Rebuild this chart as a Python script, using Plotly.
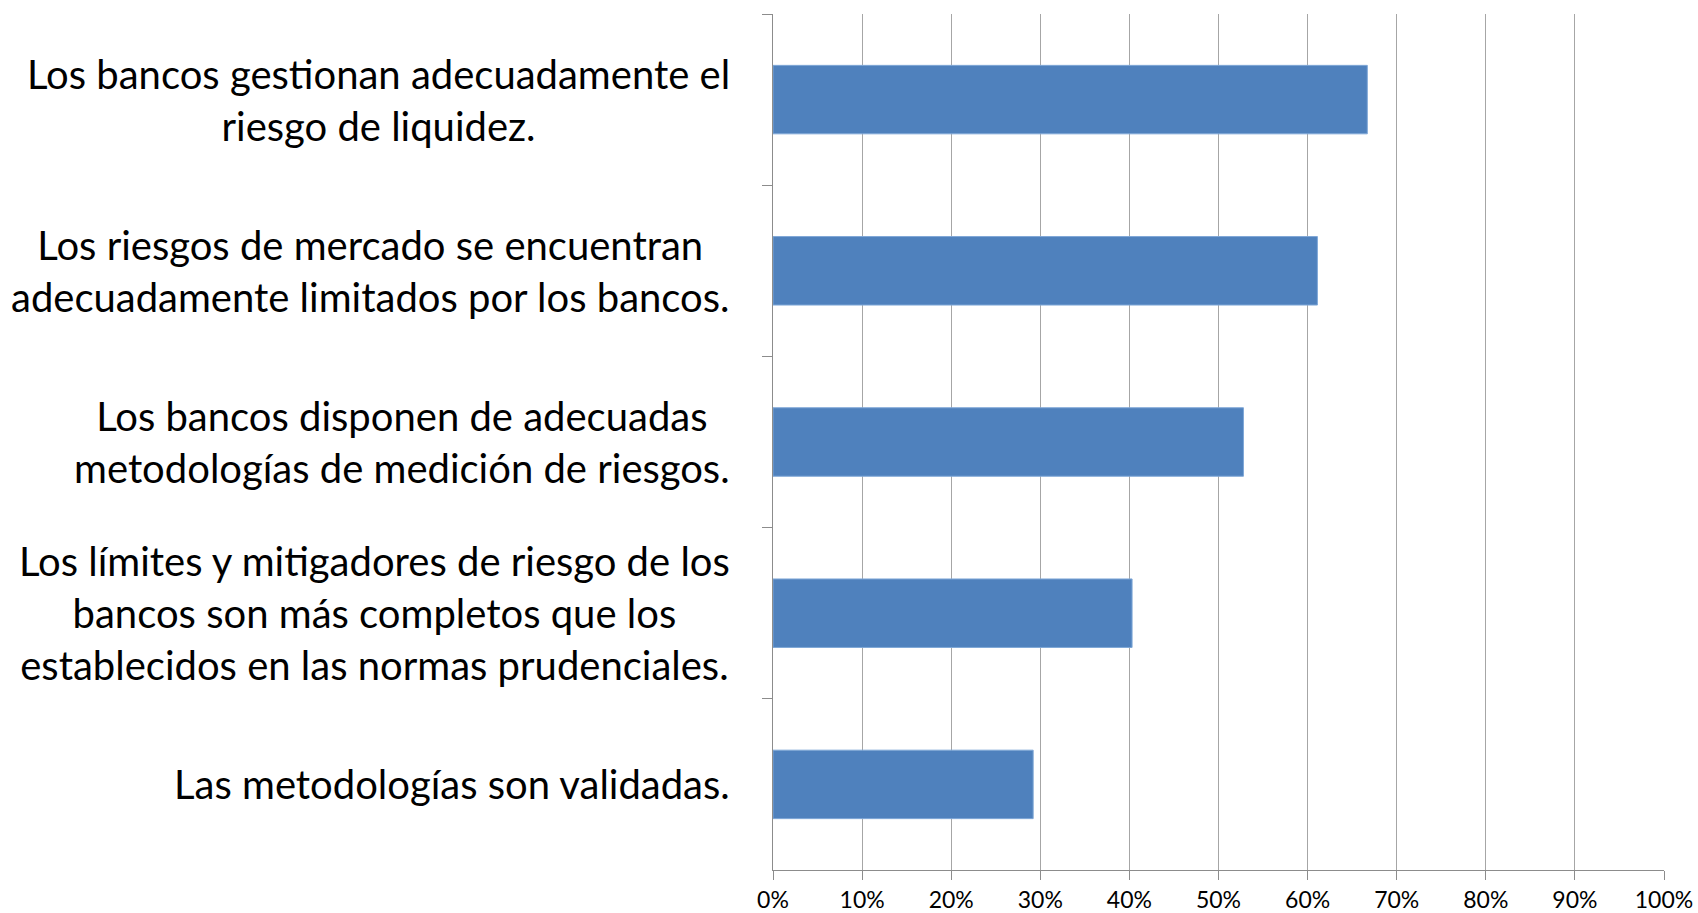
import plotly.graph_objects as go

# categories, top to bottom
categories = [
    "Los bancos gestionan adecuadamente el<br>riesgo de liquidez.",
    "Los riesgos de mercado se encuentran<br>adecuadamente limitados por los bancos.",
    "Los bancos disponen de adecuadas<br>metodologías de medición de riesgos.",
    "Los límites y mitigadores de riesgo de los<br>bancos son más completos que los<br>establecidos en las normas prudenciales.",
    "Las metodologías son validadas.",
]
values = [0.667, 0.611, 0.528, 0.403, 0.292]

tick_vals = [0, 0.1, 0.2, 0.3, 0.4, 0.5, 0.6, 0.7, 0.8, 0.9, 1.0]
tick_text = ["0%", "10%", "20%", "30%", "40%", "50%", "60%", "70%", "80%", "90%", "100%"]

bars = go.Bar(
    x=values,
    y=categories,
    orientation='h',
    width=0.4,
    marker=dict(color='#4F81BD', line=dict(color='#7FA7D7', width=1))
)

fig = go.Figure(data=[bars])

# category labels as annotations so lines are centred like the original
for cat in categories:
    fig.add_annotation(
        x=0, xref='paper', y=cat, yref='y',
        text=cat, showarrow=False,
        xanchor='right', yanchor='middle', align='center',
        xshift=-41,
        font=dict(family='Lato', size=40, color='#000000')
    )

fig.update_layout(
    width=1698, height=913,
    margin=dict(l=773, r=34, t=14, b=43),
    plot_bgcolor='white', paper_bgcolor='white',
    showlegend=False,
    font=dict(family='Lato', color='#000000'),
)

fig.update_xaxes(
    range=[0, 1],
    automargin=False,
    tickvals=tick_vals, ticktext=tick_text,
    tickfont=dict(size=23),
    showgrid=True, gridcolor='#A6A6A6', gridwidth=1,
    showline=True, linecolor='#8C8C8C', linewidth=1,
    ticks='outside', ticklen=9, tickcolor='#8C8C8C',
    zeroline=False,
)

fig.update_yaxes(
    autorange='reversed',
    automargin=False,
    showticklabels=False,
    showgrid=False,
    showline=True, linecolor='#8C8C8C', linewidth=1,
    ticks='outside', ticklen=10, tickcolor='#8C8C8C',
    tickson='boundaries',
)

# drop the default page margin so the figure fills the window exactly
fig.write_html("out.html", config={'displayModeBar': False},
               post_script="document.body.style.margin = '0';")
